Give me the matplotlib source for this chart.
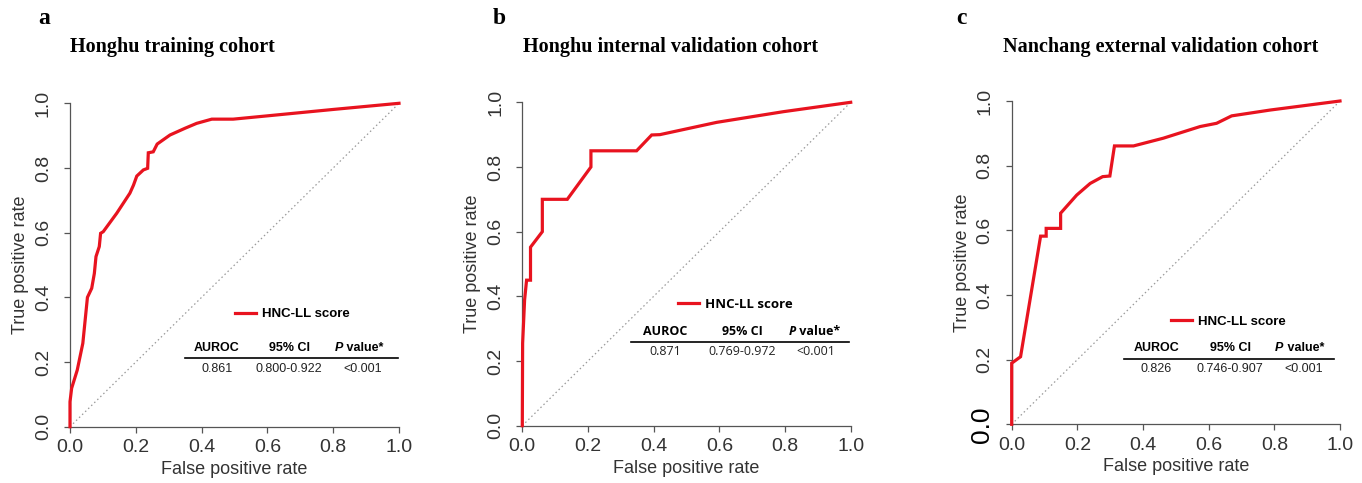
import numpy as np
import matplotlib
matplotlib.use('Agg')
import matplotlib.pyplot as plt
from matplotlib.lines import Line2D

# ROC points
fpr_a = [0, 0, 0.005, 0.022, 0.039, 0.053, 0.066, 0.074, 0.079, 0.089, 0.093, 0.101,
         0.142, 0.182, 0.193, 0.203, 0.223, 0.236, 0.238, 0.253, 0.265, 0.304, 0.35,
         0.385, 0.431, 0.496, 0.598, 0.8, 1.0]
tpr_a = [0, 0.077, 0.119, 0.175, 0.258, 0.40, 0.428, 0.474, 0.526, 0.557, 0.598, 0.603,
         0.66, 0.722, 0.747, 0.775, 0.794, 0.799, 0.847, 0.85, 0.874, 0.902, 0.923,
         0.938, 0.951, 0.951, 0.961, 0.981, 1.0]

fpr_b = [0, 0.001, 0.007, 0.013, 0.025, 0.025, 0.061, 0.061, 0.137, 0.209, 0.209,
         0.348, 0.394, 0.419, 0.592, 0.795, 1.0]
tpr_b = [0, 0.255, 0.389, 0.45, 0.45, 0.552, 0.60, 0.70, 0.70, 0.80, 0.85,
         0.85, 0.899, 0.90, 0.938, 0.971, 1.0]

fpr_c = [0, 0, 0.027, 0.088, 0.105, 0.105, 0.149, 0.149, 0.198, 0.239, 0.277, 0.299,
         0.313, 0.371, 0.462, 0.574, 0.624, 0.67, 0.787, 1.0]
tpr_c = [0, 0.189, 0.209, 0.582, 0.582, 0.606, 0.606, 0.653, 0.709, 0.745, 0.766, 0.768,
         0.861, 0.861, 0.885, 0.921, 0.931, 0.954, 0.972, 1.0]

letters = ["a", "b", "c"]
titles = ["Honghu training cohort", "Honghu internal validation cohort",
          "Nanchang external validation cohort"]
auroc = ["0.861", "0.871", "0.826"]
ci = ["0.800-0.922", "0.769-0.972", "0.746-0.907"]
pval = ["<0.001", "<0.001", "<0.001"]
ticks = [0.0, 0.2, 0.4, 0.6, 0.8, 1.0]
tick_labels = ["0.0", "0.2", "0.4", "0.6", "0.8", "1.0"]

W, H = 1362, 483
fig = plt.figure(figsize=(W / 100, H / 100), dpi=100)

# axes boxes in pixels: left, top, right, bottom
boxes = [(70, 103.3, 399, 426.7), (522.3, 102.3, 850.7, 425.7), (1011.7, 101, 1340, 424.3)]
letter_x = [38, 493, 956]
title_x = [70, 523, 1003]
# legend / table layout (axes fractions): legend x, legend y, header y, rule y, value y, rule x0, x1, column centers
lay = [
    (0.50, 0.348, 0.243, 0.211, 0.178, 0.35, 0.997, (0.446, 0.666, 0.89)),
    (0.473, 0.375, 0.291, 0.26, 0.229, 0.331, 0.994, (0.435, 0.67, 0.893)),
    (0.484, 0.317, 0.235, 0.203, 0.17, 0.342, 0.983, (0.44, 0.665, 0.888)),
]
table_font = ["Liberation Sans", "Open Sans", "Liberation Sans"]
data = [(fpr_a, tpr_a), (fpr_b, tpr_b), (fpr_c, tpr_c)]
red = "#e8131f"

for i in range(3):
    l, t, r, b = boxes[i]
    ax = fig.add_axes([l / W, 1 - b / H, (r - l) / W, (b - t) / H])
    fx, ty = data[i]
    ax.plot([0, 1], [0, 1], color="#9a9a9a", lw=0.9, dashes=(1.2, 2.2))
    ax.plot(fx, ty, color=red, lw=2.3, clip_on=False, solid_joinstyle="miter", zorder=3)
    ax.set_xlim(0, 1)
    ax.set_ylim(0, 1)
    for s in ["top", "right"]:
        ax.spines[s].set_visible(False)
    for s in ["left", "bottom"]:
        ax.spines[s].set_color("#555555")
        ax.spines[s].set_linewidth(0.9)
    ax.set_xticks(ticks)
    ax.set_xticklabels(tick_labels, fontsize=14, family="Liberation Sans", color="#333333")
    ax.set_yticks(ticks)
    ax.set_yticklabels(tick_labels, fontsize=14, family="Liberation Sans", color="#333333",
                       rotation=90, va="center", ha="right")
    ax.tick_params(axis="both", direction="out", length=4.5, width=0.9, color="#555555")
    ax.tick_params(axis="x", pad=4.5)
    ax.tick_params(axis="y", pad=8.5)
    if i == 2:
        lbl0 = ax.get_yticklabels()[0]
        lbl0.set_fontsize(19)
        lbl0.set_color("black")
    ax.set_xlabel("False positive rate", fontsize=13, family="Liberation Sans", color="#333333")
    ax.set_ylabel("True positive rate", fontsize=13, family="Liberation Sans", color="#333333")
    ax.xaxis.set_label_coords(0.5, -0.105)
    ax.yaxis.set_label_coords(-0.125, 0.5)

    lx, ly, hy, ry, vy, rx0, rx1, cols = lay[i]
    fam = table_font[i]
    h = Line2D([], [], color=red, lw=2.3)
    ax.legend([h], ["HNC-LL score"], loc="center left", bbox_to_anchor=(lx, ly),
              frameon=False, borderpad=0, borderaxespad=0, handlelength=1.65,
              handletextpad=0.45, prop={"family": fam, "weight": "bold", "size": 9.5})
    ax.text(cols[0], hy, "AUROC", ha="center", va="center", fontsize=9, weight="bold", family=fam)
    ax.text(cols[1], hy, "95% CI", ha="center", va="center", fontsize=9, weight="bold", family=fam)
    ax.text(cols[2] - 0.06, hy, "P", ha="right", va="center", fontsize=9, weight="bold",
            style="italic", family=fam)
    ax.text(cols[2] - 0.06, hy, " value*", ha="left", va="center", fontsize=9, weight="bold", family=fam)
    ax.axhline(ry, rx0, rx1, color="black", lw=1.2)
    ax.text(cols[0], vy, auroc[i], ha="center", va="center", fontsize=9, family=fam, color="#222222")
    ax.text(cols[1], vy, ci[i], ha="center", va="center", fontsize=9, family=fam, color="#222222")
    ax.text(cols[2], vy, pval[i], ha="center", va="center", fontsize=9, family=fam, color="#222222")

    fig.text(letter_x[i] / W, 1 - 18 / H, letters[i], fontsize=17, weight="bold",
             family="Liberation Serif", ha="left", va="center")
    fig.text(title_x[i] / W, 1 - 47 / H, titles[i], fontsize=14.5, weight="bold",
             family="Liberation Serif", ha="left", va="center")

fig.savefig("out.png", dpi=100)
plt.close()
